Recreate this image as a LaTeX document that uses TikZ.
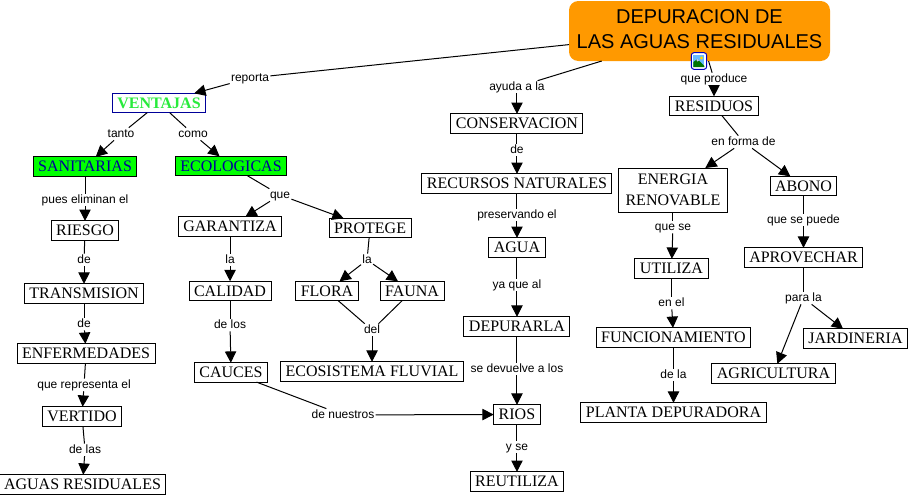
\documentclass[tikz,border=0pt]{standalone}
\usepackage{fontspec}
\setmainfont{Liberation Serif}
\newfontfamily\labelfont{Liberation Sans}
\usepackage{xcolor}
\definecolor{TitleOrange}{RGB}{255,153,0}
\definecolor{NodeGreen}{RGB}{0,255,0}
\definecolor{TextGreen}{RGB}{40,235,60}
\definecolor{DeepBlue}{RGB}{0,0,153}
\usetikzlibrary{positioning,arrows.meta,calc}

\begin{document}
\begin{tikzpicture}[
    x=0.75pt, y=-0.75pt,
    title/.style={rectangle, fill=TitleOrange, rounded corners=7pt,
                minimum width=195.75pt, minimum height=45pt, inner sep=0pt, outer sep=0pt,
                text depth=3pt, align=center, font=\labelfont\fontsize{15}{18.75}\selectfont},
    concept/.style={rectangle, draw=black, fill=white, line width=0.75pt,
                minimum height=14.5pt, inner xsep=3.75pt, inner ysep=1pt, outer sep=0pt,
                align=center, font=\fontsize{12}{16}\selectfont},
    greenbox/.style={concept, fill=NodeGreen, text=DeepBlue},
    lbl/.style={rectangle, inner xsep=1pt, inner ysep=0pt, outer sep=0pt, text height=7.5pt, text depth=2pt,
                font=\labelfont\fontsize{9}{10}\selectfont},
    link/.style={line width=0.75pt},
    arrow/.style={line width=0.75pt, -{Stealth[length=8.5pt, width=8.5pt, inset=0pt]}}
]
    \useasboundingbox (0,0) rectangle (911,497);

    \node[title] (dep) at (699.5,31) {DEPURACION DE\\LAS AGUAS RESIDUALES};

    % left branch
    \node[lbl, below=8pt of dep, xshift=-337.1pt] (reporta) {reporta};
    \node[concept, draw=DeepBlue, text=TextGreen, font=\fontsize{12}{16}\selectfont\bfseries,
          below=6.75pt of reporta, xshift=-68.25pt] (ventajas) {VENTAJAS};
    \node[lbl, below=11.25pt of ventajas, xshift=-28.5pt] (tanto) {tanto};
    \node[lbl, below=11.25pt of ventajas, xshift=25.5pt] (como) {como};
    \node[greenbox, below=12.4pt of tanto, xshift=-27pt] (sanit) {SANITARIAS};
    \node[greenbox, below=12pt of como, xshift=28.5pt] (ecolog) {ECOLOGICAS};

    \node[lbl, below=13.1pt of sanit] (pues) {pues eliminan el};
    \node[concept, below=10.9pt of pues] (riesgo) {RIESGO};
    \node[lbl, below=10.1pt of riesgo, xshift=-0.75pt] (deA) {de};
    \node[concept, below=13.1pt of deA] (transm) {TRANSMISION};
    \node[lbl, below=10.9pt of transm] (deB) {de};
    \node[concept, below=10.1pt of deB, xshift=1.5pt] (enferm) {ENFERMEDADES};
    \node[lbl, below=11.6pt of enferm, xshift=-1.5pt] (repres) {que representa el};
    \node[concept, below=11.6pt of repres, xshift=-1.5pt] (vertido) {VERTIDO};
    \node[lbl, below=13.1pt of vertido, xshift=2.25pt] (delas) {de las};
    \node[concept, below=13.9pt of delas, xshift=-1.9pt] (aguas) {AGUAS RESIDUALES};

    \node[lbl, below=9.75pt of ecolog, xshift=36.75pt] (que) {que};
    \node[concept, below=11.6pt of que, xshift=-37.5pt] (garant) {GARANTIZA};
    \node[concept, below=12.75pt of que, xshift=67.5pt] (protege) {PROTEGE};
    \node[lbl, below=13.1pt of garant] (laA) {la};
    \node[concept, below=11.25pt of laA] (calidad) {CALIDAD};
    \node[lbl, below=13.5pt of calidad] (delos) {de los};
    \node[concept, below=23.6pt of delos, xshift=0.75pt] (cauces) {CAUCES};
    \node[lbl, below=12pt of protege, xshift=-2.25pt] (laB) {la};
    \node[concept, below=11.25pt of laB, xshift=-30pt] (flora) {FLORA};
    \node[concept, below=11.25pt of laB, xshift=33.75pt] (fauna) {FAUNA};
    \node[lbl, below=17.25pt of flora, xshift=33.75pt] (del) {del};
    \node[concept, below=19.1pt of del] (ecosis) {ECOSISTEMA FLUVIAL};
    \node[lbl, below=19.9pt of cauces, xshift=84pt] (nuestros) {de nuestros};

    % middle branch
    \node[lbl, below=14.75pt of dep, xshift=-136.9pt] (ayuda) {ayuda a la};
    \node[concept, below=15.4pt of ayuda] (conserv) {CONSERVACION};
    \node[lbl, below=7.9pt of conserv] (deC) {de};
    \node[concept, below=13.1pt of deC] (recursos) {RECURSOS NATURALES};
    \node[lbl, below=11.6pt of recursos] (preserv) {preservando el};
    \node[concept, below=12.4pt of preserv] (agua) {AGUA};
    \node[lbl, below=16.1pt of agua] (yaque) {ya que al};
    \node[concept, below=19.1pt of yaque] (depurar) {DEPURARLA};
    \node[lbl, below=19.9pt of depurar] (devuelve) {se devuelve a los};
    \node[concept, below=22.1pt of devuelve] (rios) {RIOS};
    \node[lbl, below=12.4pt of rios] (yse) {y se};
    \node[concept, below=13.9pt of yse] (reutil) {REUTILIZA};

    % right branch
    \node[lbl, below=8.75pt of dep, xshift=10.9pt] (produce) {que produce};
    \node[concept, below=8.25pt of produce] (residuos) {RESIDUOS};
    \node[lbl, below=15pt of residuos, xshift=22.1pt] (forma) {en forma de};
    \node[concept, minimum width=81.75pt, minimum height=33pt, below=14.75pt of forma, xshift=-52.9pt] (energia) {ENERGIA\\RENOVABLE};
    \node[concept, below=21pt of forma, xshift=45pt] (abono) {ABONO};
    \node[lbl, below=6.5pt of energia] (quese) {que se};
    \node[concept, below=19.1pt of quese, xshift=-1.1pt] (utiliza) {UTILIZA};
    \node[lbl, below=13.9pt of utiliza] (enel) {en el};
    \node[concept, below=13.9pt of enel, xshift=1.5pt] (funcion) {FUNCIONAMIENTO};
    \node[lbl, below=16.1pt of funcion] (dela) {de la};
    \node[concept, below=16.1pt of dela] (planta) {PLANTA DEPURADORA};
    \node[lbl, below=13.5pt of abono] (puede) {que se puede};
    \node[concept, below=16.1pt of puede] (aprov) {APROVECHAR};
    \node[lbl, below=18.4pt of aprov] (parala) {para la};
    \node[concept, below=18.4pt of parala, xshift=39pt] (jardin) {JARDINERIA};
    \node[concept, below=44.6pt of parala, xshift=-22.5pt] (agric) {AGRICULTURA};

    \draw[link] (dep) -- (reporta);
    \draw[arrow] (reporta) -- (ventajas);
    \draw[link] (ventajas) -- (tanto);
    \draw[arrow] (tanto) -- (sanit);
    \draw[link] (ventajas) -- (como);
    \draw[arrow] (como) -- (ecolog);
    \draw[link] (sanit) -- (pues);
    \draw[arrow] (pues) -- (riesgo);
    \draw[link] (riesgo) -- (deA);
    \draw[arrow] (deA) -- (transm);
    \draw[link] (transm) -- (deB);
    \draw[arrow] (deB) -- (enferm);
    \draw[link] (enferm) -- (repres);
    \draw[arrow] (repres) -- (vertido);
    \draw[link] (vertido) -- (delas);
    \draw[arrow] (delas) -- (aguas);
    \draw[link] (ecolog) -- (que);
    \draw[arrow] (que) -- (garant);
    \draw[arrow] (que) -- (protege);
    \draw[link] (garant) -- (laA);
    \draw[arrow] (laA) -- (calidad);
    \draw[link] (calidad) -- (delos);
    \draw[arrow] (delos) -- (cauces);
    \draw[link] (protege) -- (laB);
    \draw[arrow] (laB) -- (flora);
    \draw[arrow] (laB) -- (fauna);
    \draw[link] (flora) -- (del);
    \draw[link] (fauna) -- (del);
    \draw[arrow] (del) -- (ecosis);
    \draw[link] (cauces) -- (nuestros);
    \draw[arrow] (nuestros) -- (rios);

    \draw[link] (dep) -- (ayuda);
    \draw[arrow] (ayuda) -- (conserv);
    \draw[link] (conserv) -- (deC);
    \draw[arrow] (deC) -- (recursos);
    \draw[link] (recursos) -- (preserv);
    \draw[arrow] (preserv) -- (agua);
    \draw[link] (agua) -- (yaque);
    \draw[arrow] (yaque) -- (depurar);
    \draw[link] (depurar) -- (devuelve);
    \draw[arrow] (devuelve) -- (rios);
    \draw[link] (rios) -- (yse);
    \draw[arrow] (yse) -- (reutil);

    \draw[link] (dep) -- (produce);
    \draw[arrow] (produce) -- (residuos);
    \draw[link] (residuos) -- (forma);
    \draw[arrow] (forma) -- (energia);
    \draw[arrow] (forma) -- (abono);
    \draw[link] (energia) -- (quese);
    \draw[arrow] (quese) -- (utiliza);
    \draw[link] (utiliza) -- (enel);
    \draw[arrow] (enel) -- (funcion);
    \draw[link] (funcion) -- (dela);
    \draw[arrow] (dela) -- (planta);
    \draw[link] (abono) -- (puede);
    \draw[arrow] (puede) -- (aprov);
    \draw[link] (aprov) -- (parala);
    \draw[arrow] (parala) -- (jardin);
    \draw[arrow] (parala) -- (agric);

    % picture icon on the title
    \node[rectangle, draw=blue!75!black, fill=white, rounded corners=2pt, line width=0.75pt,
          minimum width=11.5pt, minimum height=12.5pt, inner sep=0pt, xshift=-0.4pt] (icon) at (dep.south) {};
    \begin{scope}[shift={(icon.center)}]
        \fill[blue!45!cyan!60] (-5.5,-6) rectangle (5.5,6);
        \fill[yellow!80!orange] (2.5,-3) circle (1.7);
        \fill[green!45!black] (-5.5,6) -- (-5.5,1) -- (-1.5,-2) -- (5.5,5) -- (5.5,6) -- cycle;
        \fill[white!80!blue] (-2.6,-1.2) -- (-1.5,-2) -- (0,-0.5) -- (-1.5,0.5) -- cycle;
    \end{scope}
\end{tikzpicture}
\end{document}
